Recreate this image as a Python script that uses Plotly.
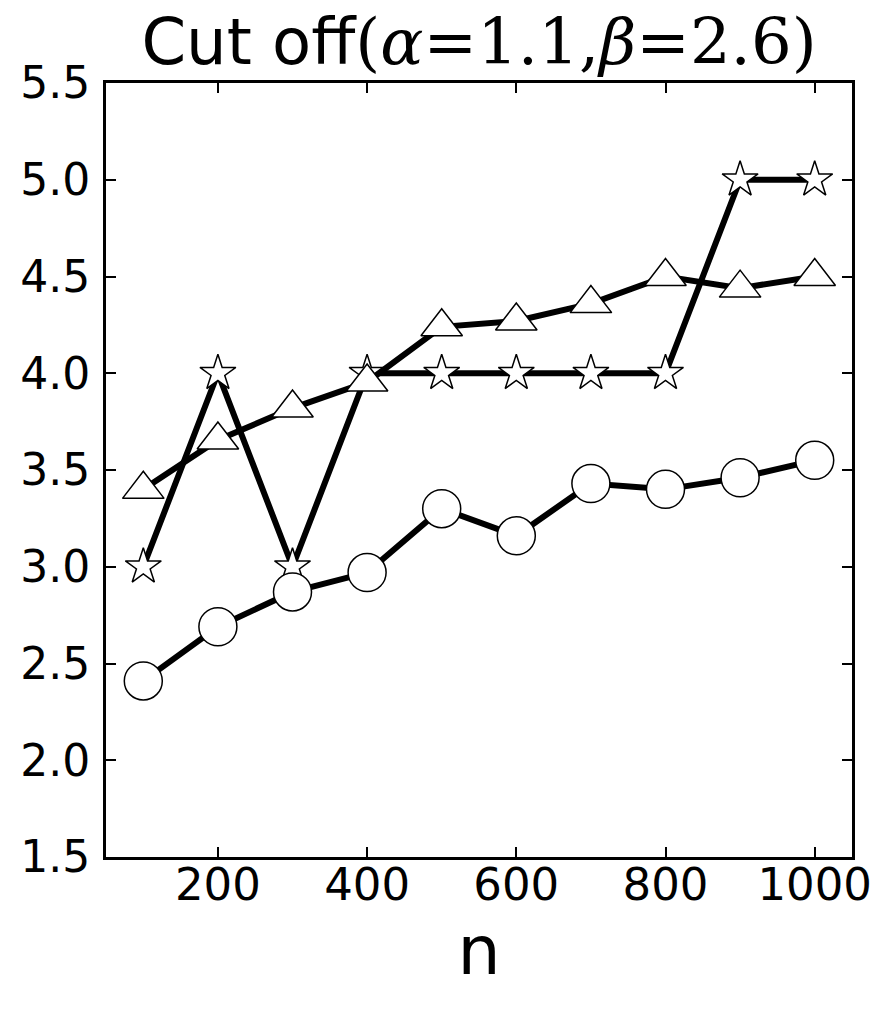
import plotly.graph_objects as go

n_values = [100, 200, 300, 400, 500, 600, 700, 800, 900, 1000]
star_values = [3.0, 4.0, 3.0, 4.0, 4.0, 4.0, 4.0, 4.0, 5.0, 5.0]
triangle_values = [3.40, 3.655, 3.82, 3.955, 4.24, 4.27, 4.36, 4.50, 4.44, 4.50]
circle_values = [2.41, 2.69, 2.87, 2.97, 3.30, 3.16, 3.43, 3.40, 3.46, 3.55]
x_ticks = [200, 400, 600, 800, 1000]
y_ticks = [1.5, 2.0, 2.5, 3.0, 3.5, 4.0, 4.5, 5.0, 5.5]

fig = go.Figure()
series = [
    (star_values, "star", 27),
    (triangle_values, "triangle-up", 36),
    (circle_values, "circle", 38),
]
for vals, sym, size in series:
    fig.add_trace(go.Scatter(
        x=n_values, y=vals, mode="lines+markers",
        line=dict(color="black", width=6),
        marker=dict(symbol=sym, size=size, color="white",
                    line=dict(color="black", width=1.5)),
        showlegend=False, cliponaxis=False,
    ))

axis_common = dict(
    showgrid=False, zeroline=False, showline=True, linecolor="black",
    linewidth=3, mirror="ticks", ticks="inside", ticklen=10, tickwidth=1.5,
    tickcolor="black",
)
fig.update_layout(
    width=892, height=1014,
    margin=dict(l=90, r=48, t=75, b=165),
    paper_bgcolor="white", plot_bgcolor="white",
    font=dict(family="DejaVu Sans", color="black"),
    title=dict(
        text="Cut off<span style='font-family:DejaVu Serif'>(<i>α</i>=1.1,<i>β</i>=2.6)</span>",
        x=0.5, xref="paper", xanchor="center",
        y=1, yref="container", yanchor="top", pad=dict(t=11),
        font=dict(size=64, family="DejaVu Sans", color="black"),
    ),
    xaxis=dict(
        range=[50, 1050], tickvals=x_ticks, ticktext=[str(v) for v in x_ticks],
        tickfont=dict(size=45), ticklabelstandoff=-14,
        title=dict(text="n", font=dict(size=68), standoff=8),
        **axis_common,
    ),
    yaxis=dict(
        range=[1.5, 5.5], tickvals=y_ticks, ticktext=[f"{v:.1f}" for v in y_ticks],
        tickfont=dict(size=44), ticklabelstandoff=4,
        **axis_common,
    ),
)
fig.write_html("out.html")
